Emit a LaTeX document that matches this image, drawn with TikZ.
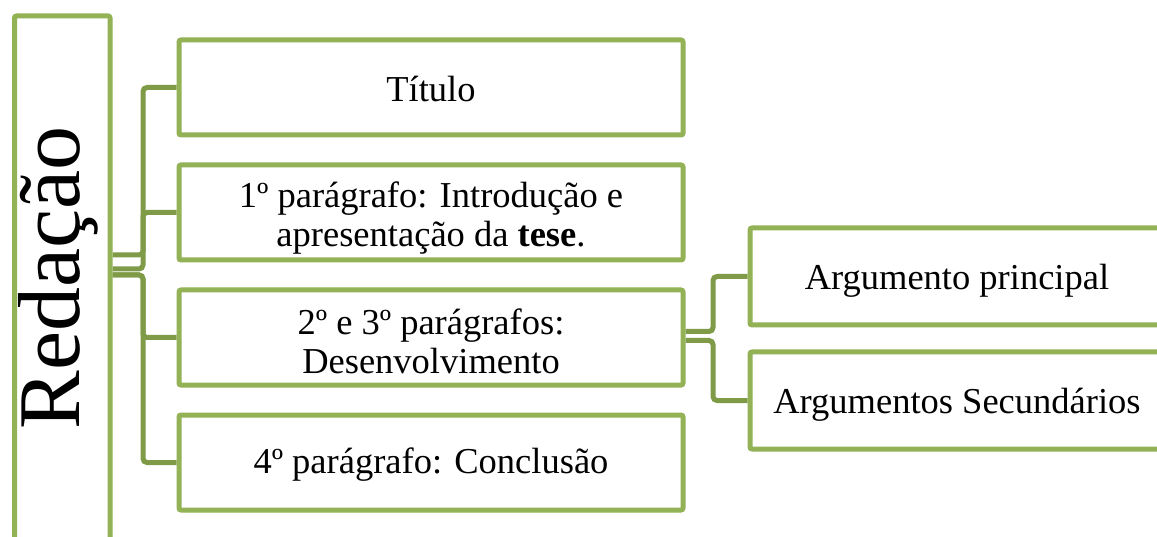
\documentclass[tikz,border=0pt]{standalone}
\usepackage{fontspec}
\setmainfont{Liberation Serif}
\usetikzlibrary{calc,backgrounds}
\definecolor{boxgreen}{HTML}{93B155}
\definecolor{conngreen}{HTML}{7F9B48}
\newcommand\lift[1]{\rule{0pt}{#1}}
\tikzset{
  box/.style={draw=boxgreen, line width=5pt, rounded corners=2pt, fill=white,
    inner sep=0pt, align=center, font=\fontsize{36.5}{39}\selectfont},
  lbox/.style={box, minimum width=504pt, minimum height=95pt},
  rbox/.style={box, minimum width=414pt, minimum height=97pt},
  conn/.style={draw=conngreen, line width=5pt, rounded corners=4pt},
}
\begin{document}
\begin{tikzpicture}[x=1pt,y=-1pt]
\useasboundingbox (0,0) rectangle (1157,537);
\clip (0,0) rectangle (1157,537);
\coordinate (trunkL) at (143,0);
\coordinate (trunkR) at (713,0);
\node[box, minimum width=95.5pt, minimum height=530pt] (red) at (62.25,281) {};
\node[rotate=90, inner sep=0pt, font=\fontsize{88}{88}\selectfont] (redtext) at (58,278) {Redação};
\node[lbox] (t1) at (431,87.5) {\lift{28pt}Título};
\node[lbox] (t2) at (431,212.5) {\lift{36pt}1º parágrafo: Introdução e\\apresentação da \textbf{tese}.};
\node[lbox] (t3) at (431,337.5) {\lift{34pt}2º e 3º parágrafos:\\Desenvolvimento};
\node[lbox] (t4) at (431,462.5) {\lift{30pt}4º parágrafo: Conclusão};
\node[rbox] (r1) at (957,276.5) {\lift{33pt}Argumento principal};
\node[rbox] (r2) at (957,400.5) {\lift{33pt}Argumentos Secundários};
\begin{pgfonlayer}{background}
\coordinate (s1) at ($(red.east)+(0,-26)$);
\coordinate (s2) at ($(red.east)+(0,-12)$);
\coordinate (s3) at ($(red.east)+(0,-6)$);
\draw[conn] (s1) -- (s1 -| trunkL) |- (t1.west);
\draw[conn] (s2) -- (s2 -| trunkL) |- (t2.west);
\draw[conn] (s3) -- (s3 -| trunkL) |- (t3.west);
\draw[conn] (s3) -- (s3 -| trunkL) |- (t4.west);
\coordinate (u1) at ($(t3.east)+(0,-6)$);
\coordinate (u2) at ($(t3.east)+(0,3)$);
\draw[conn] (u1) -- (u1 -| trunkR) |- (r1.west);
\draw[conn] (u2) -- (u2 -| trunkR) |- (r2.west);
\end{pgfonlayer}
\end{tikzpicture}
\end{document}
